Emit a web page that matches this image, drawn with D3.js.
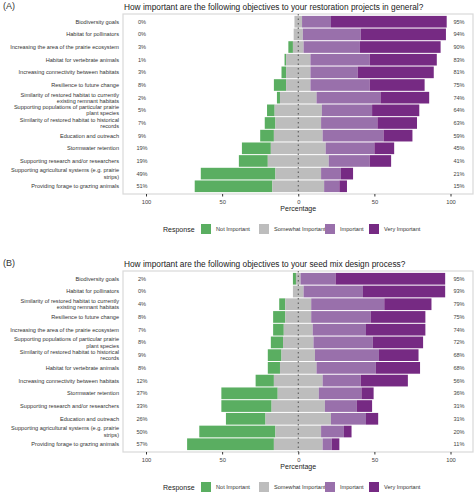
<!DOCTYPE html><html><head><meta charset="utf-8">
<script src="https://cdn.jsdelivr.net/npm/d3@7"></script>
<style>body{margin:0;background:#fff}</style></head><body>
<svg id="c" width="474" height="497"></svg>
<script>
const responses=["Not Important","Somewhat Important","Important","Very Important"];
const colors=["#5AAE61","#BDBDBD","#9970AB","#762A83"];
const ticks=[-100,-50,0,50,100];
const catsA=["Biodiversity goals","Habitat for pollinators","Increasing the area of the prairie ecosystem","Habitat for vertebrate animals","Increasing connectivity between habitats","Resilience to future change","Similarity of restored habitat to currently|existing remnant habitats","Supporting populations of particular prairie|plant species","Similarity of restored habitat to historical|records","Education and outreach","Stormwater retention","Supporting research and/or researchers","Supporting agricultural systems (e.g. prairie|strips)","Providing forage to grazing animals"];
const notA=[0,0,3,1,3,8,2,5,7,9,19,19,49,51];
const someA=[5,6,7,16,16,16,24,31,30,32,36,40,30,34];
const impA=[19,38,37,39,31,39,42,33,37,40,32,27,13,10];
const veryA=[76,56,53,44,50,36,32,31,26,19,13,14,8,5];
const leftA=["0%","0%","3%","1%","3%","8%","2%","5%","7%","9%","19%","19%","49%","51%"];
const rightA=["95%","94%","90%","83%","81%","75%","74%","64%","63%","59%","45%","41%","21%","15%"];
const catsB=["Biodiversity goals","Habitat for pollinators","Similarity of restored habitat to currently|existing remnant habitats","Resilience to future change","Increasing the area of the prairie ecosystem","Supporting populations of particular prairie|plant species","Similarity of restored habitat to historical|records","Habitat for vertebrate animals","Increasing connectivity between habitats","Stormwater retention","Supporting research and/or researchers","Education and outreach","Supporting agricultural systems (e.g. prairie|strips)","Providing forage to grazing animals"];
const notB=[2,0,4,8,7,8,9,8,12,37,33,26,50,57];
const someB=[3,7,17,17,19,20,22,24,32,27,35,43,30,32];
const impB=[23,39,48,39,35,39,42,39,25,28,21,23,15,6];
const veryB=[72,54,31,36,39,33,26,29,31,8,10,8,5,5];
const leftB=["2%","0%","4%","8%","7%","8%","9%","8%","12%","37%","33%","26%","50%","57%"];
const rightB=["95%","93%","79%","75%","74%","72%","68%","68%","56%","36%","31%","31%","20%","11%"];

const svg=d3.select("#c");
const F="Liberation Sans, Arial, sans-serif";
function panel(tag,title,cats,v,left,right,top,bottom){
  const x=d3.scaleLinear().domain([-100,100]).range([146,450.5]);
  const plotL=123,plotR=473;
  const y=d3.scaleBand().domain(cats).range([top,bottom]).paddingInner(0.08).paddingOuter(0.15);
  svg.append("text").attr("x",3).attr("y",top-5).attr("font-family",F).attr("font-size",9).attr("fill","#333").text(tag);
  svg.append("text").attr("x",124).attr("y",top-4).attr("font-family",F).attr("font-size",8.3).attr("fill","#222").text(title);
  svg.append("rect").attr("x",plotL).attr("y",top).attr("width",plotR-plotL).attr("height",bottom-top).attr("fill","#fff").attr("stroke","#d9d9d9").attr("stroke-width",1.2);
  cats.forEach((c,i)=>{
    const vals=[v[0][i],v[1][i],v[2][i],v[3][i]];
    let start=-(vals[0]+vals[1]/2);
    vals.forEach((val,k)=>{
      if(val>0) svg.append("rect").attr("x",x(start)).attr("y",y(c)).attr("width",x(start+val)-x(start)).attr("height",y.bandwidth()).attr("fill",colors[k]);
      start+=val;
    });
    const lines=c.split("|"), cy=y(c)+y.bandwidth()/2;
    lines.forEach((l,j)=>svg.append("text").attr("x",119).attr("y",cy+2+(j-(lines.length-1)/2)*6.3).attr("text-anchor","end").attr("font-family",F).attr("font-size",5.6).attr("fill","#333").text(l));
    svg.append("text").attr("x",142).attr("y",cy+2).attr("text-anchor","middle").attr("font-family",F).attr("font-size",5.6).attr("fill","#444").text(left[i]);
    svg.append("text").attr("x",459).attr("y",cy+2).attr("text-anchor","middle").attr("font-family",F).attr("font-size",5.6).attr("fill","#444").text(right[i]);
  });
  svg.append("line").attr("x1",x(0)).attr("x2",x(0)).attr("y1",top).attr("y2",bottom).attr("stroke","#333").attr("stroke-dasharray","1.5,3").attr("stroke-width",0.8);
  const ax=svg.append("g").attr("transform",`translate(0,${bottom})`).call(d3.axisBottom(x).tickValues(ticks).tickFormat(d=>Math.abs(d)).tickSize(2.5));
  ax.select(".domain").remove();
  ax.selectAll("line").attr("stroke","#333");
  ax.selectAll("text").attr("font-family",F).attr("font-size",5.8).attr("fill","#444");
  svg.append("text").attr("x",x(0)).attr("y",bottom+17).attr("text-anchor","middle").attr("font-family",F).attr("font-size",7).attr("fill","#222").text("Percentage");
  const ly=bottom+35;
  svg.append("text").attr("x",163).attr("y",ly+3).attr("font-family",F).attr("font-size",7).attr("fill","#222").text("Response");
  const lx=[201,259,325,369];
  responses.forEach((r,k)=>{
    svg.append("rect").attr("x",lx[k]).attr("y",ly-5).attr("width",10).attr("height",10).attr("fill",colors[k]);
    svg.append("text").attr("x",lx[k]+15).attr("y",ly+2).attr("font-family",F).attr("font-size",5.6).attr("fill","#333").text(r);
  });
}
panel("(A)","How important are the following objectives to your restoration projects in general?",catsA,[notA,someA,impA,veryA],leftA,rightA,14,194);
panel("(B)","How important are the following objectives to your seed mix design process?",catsB,[notB,someB,impB,veryB],leftB,rightB,271,452);
</script></body></html>
